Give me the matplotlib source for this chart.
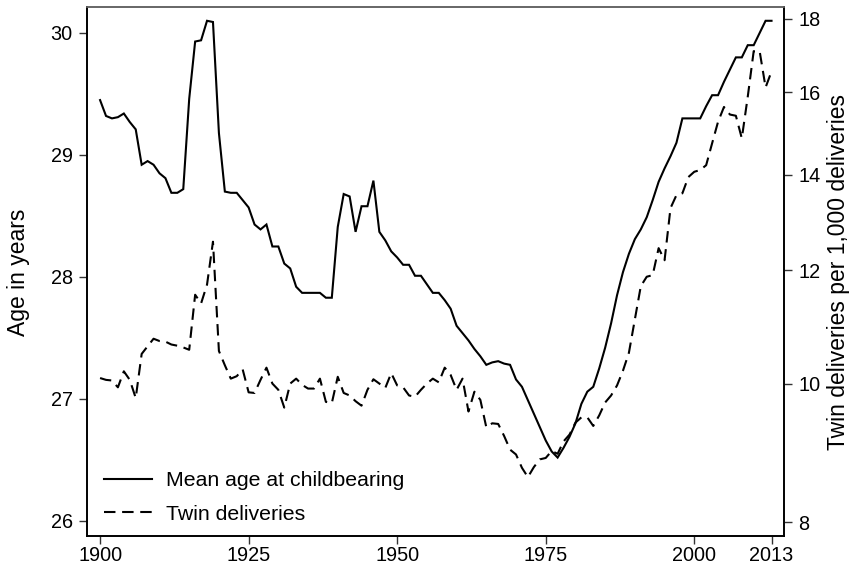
import matplotlib
matplotlib.use("Agg")
import matplotlib.pyplot as plt
from matplotlib.ticker import FixedLocator, NullLocator, FuncFormatter

plt.rcParams['font.family'] = ['Liberation Sans', 'DejaVu Sans']

years = list(range(1900, 2014))

mean_age = [
    29.45, 29.32, 29.30, 29.31, 29.34, 29.27, 29.21, 28.92, 28.95, 28.92,
    28.85, 28.81, 28.69, 28.69, 28.72, 29.46, 29.93, 29.94, 30.10, 30.09,
    29.18, 28.70, 28.69, 28.69, 28.63, 28.57, 28.43, 28.39, 28.43, 28.25,
    28.25, 28.11, 28.07, 27.92, 27.87, 27.87, 27.87, 27.87, 27.83, 27.83,
    28.41, 28.68, 28.66, 28.37, 28.58, 28.58, 28.79, 28.37, 28.30, 28.21,
    28.16, 28.10, 28.10, 28.01, 28.01, 27.94, 27.87, 27.87, 27.81, 27.74,
    27.60, 27.54, 27.48, 27.41, 27.35, 27.28, 27.30, 27.31, 27.29, 27.28,
    27.16, 27.10, 26.99, 26.88, 26.77, 26.66, 26.57, 26.52, 26.60, 26.69,
    26.80, 26.96, 27.06, 27.10, 27.25, 27.42, 27.62, 27.85, 28.04, 28.19,
    28.31, 28.39, 28.49, 28.63, 28.78, 28.89, 28.99, 29.10, 29.30, 29.30,
    29.30, 29.30, 29.40, 29.49, 29.49, 29.60, 29.70, 29.80, 29.80, 29.90,
    29.90, 30.00, 30.10, 30.10,
]

twins = [
    10.09, 10.06, 10.05, 9.94, 10.20, 10.06, 9.77, 10.49, 10.62, 10.75,
    10.71, 10.70, 10.65, 10.63, 10.60, 10.56, 11.54, 11.38, 11.73, 12.57,
    10.54, 10.30, 10.08, 10.12, 10.23, 9.86, 9.85, 10.06, 10.26, 10.00,
    9.90, 9.62, 10.00, 10.08, 9.98, 9.92, 9.92, 10.08, 9.71, 9.69,
    10.11, 9.85, 9.81, 9.72, 9.65, 9.90, 10.07, 10.00, 9.93, 10.17,
    9.97, 9.94, 9.81, 9.79, 9.90, 10.00, 10.08, 10.02, 10.26, 10.14,
    9.90, 10.08, 9.56, 9.87, 9.74, 9.32, 9.38, 9.37, 9.19, 8.99,
    8.92, 8.73, 8.60, 8.74, 8.85, 8.87, 8.97, 8.93, 9.11, 9.21,
    9.39, 9.47, 9.47, 9.34, 9.50, 9.70, 9.81, 9.97, 10.21, 10.51,
    11.09, 11.70, 11.88, 11.91, 12.44, 12.20, 13.27, 13.55, 13.59, 13.95,
    14.07, 14.11, 14.22, 14.73, 15.25, 15.62, 15.43, 15.40, 14.85, 15.88,
    17.09, 17.09, 16.12, 16.54,
]

x_ticks = [1900, 1925, 1950, 1975, 2000, 2013]
left_ticks = [26, 27, 28, 29, 30]
right_ticks = [8, 10, 12, 14, 16, 18]

TICK_FS = 14.3
TITLE_FS = 16.5
LEG_FS = 15.3

W, H = 858, 570
fig = plt.figure(figsize=(W / 100, H / 100), dpi=100)
L, R, B, T = 87 / W, 784 / W, 1 - 536 / H, 1 - 7 / H
ax = fig.add_axes([L, B, R - L, T - B])
ax2 = ax.twinx()

l1, = ax.plot(years, mean_age, color='black', lw=1.5, solid_joinstyle='miter',
              label='Mean age at childbearing')
l2, = ax2.plot(years, twins, color='black', lw=1.5, linestyle=(0, (5.5, 3.2)),
               label='Twin deliveries')

ax.set_xlim(1897.8, 2015.1)
ax.set_ylim(25.877, 30.213)
ax2.set_yscale('log')
ax2.set_ylim(7.8215, 18.351)

ax.xaxis.set_major_locator(FixedLocator(x_ticks))
ax.yaxis.set_major_locator(FixedLocator(left_ticks))
ax2.yaxis.set_major_locator(FixedLocator(right_ticks))
ax2.yaxis.set_minor_locator(NullLocator())
ax2.yaxis.set_major_formatter(FuncFormatter(lambda v, p: f"{v:g}"))
ax2.yaxis.set_minor_formatter(FuncFormatter(lambda v, p: ""))

for a in (ax, ax2):
    a.tick_params(axis='both', which='major', length=6, width=1,
                  labelsize=TICK_FS, color='#333333')
    a.tick_params(axis='y', pad=4.3)
    a.tick_params(axis='x', pad=1.5)
    for s in a.spines.values():
        s.set_linewidth(1.2)
        s.set_color('black')
    a.spines['top'].set_color('#666666')

fig.text(19 / W, 1 - 272 / H, 'Age in years', rotation=90, ha='center',
         va='center', fontsize=TITLE_FS)
fig.text(838 / W, 1 - 272 / H, 'Twin deliveries per 1,000 deliveries',
         rotation=90, ha='center', va='center', fontsize=TITLE_FS)

ax.legend(handles=[l1, l2], loc='lower left', bbox_to_anchor=(0.024, 0.023),
          frameon=False, fontsize=LEG_FS, handlelength=2.26, handletextpad=0.66,
          labelspacing=0.69, borderpad=0, borderaxespad=0)

fig.savefig('out.png', dpi=100)
